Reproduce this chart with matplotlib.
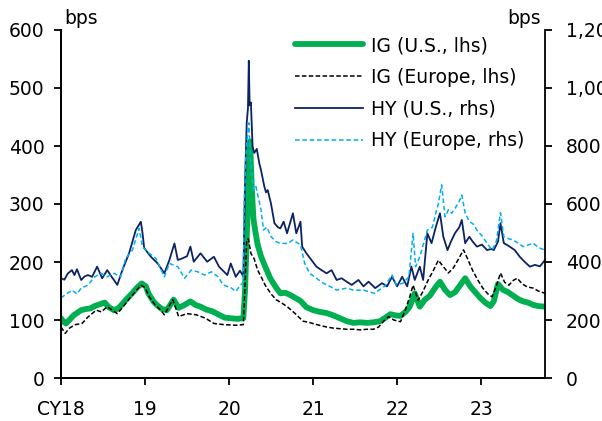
import numpy as np
import matplotlib
matplotlib.use("Agg")
import matplotlib.pyplot as plt
from matplotlib.ticker import FuncFormatter

plt.rcParams['font.family'] = ['DejaVu Sans']

# Spreads, dates as fractional years
ig_us_t = [2018.00, 2018.03, 2018.06, 2018.10, 2018.15, 2018.20, 2018.24, 2018.30, 2018.35, 2018.40,
           2018.46, 2018.52, 2018.57, 2018.63, 2018.68, 2018.72, 2018.78, 2018.84, 2018.90, 2018.96,
           2019.01, 2019.04, 2019.10, 2019.14, 2019.20, 2019.26, 2019.34, 2019.40, 2019.47, 2019.54,
           2019.60, 2019.66, 2019.73, 2019.80, 2019.88, 2019.95, 2020.02, 2020.10, 2020.17, 2020.19,
           2020.21, 2020.23, 2020.25, 2020.27, 2020.29, 2020.31, 2020.34, 2020.38, 2020.43, 2020.49,
           2020.55, 2020.61, 2020.67, 2020.73, 2020.79, 2020.85, 2020.92,
           2021.00, 2021.08, 2021.16, 2021.24, 2021.32, 2021.40, 2021.48, 2021.56, 2021.64, 2021.72,
           2021.80, 2021.86, 2021.92, 2021.98, 2022.04, 2022.10, 2022.15, 2022.21, 2022.27, 2022.33,
           2022.39, 2022.45, 2022.51, 2022.57, 2022.63, 2022.69, 2022.75, 2022.81, 2022.87, 2022.93,
           2022.99, 2023.05, 2023.11, 2023.15, 2023.20, 2023.26, 2023.32, 2023.38, 2023.44, 2023.50,
           2023.56, 2023.62, 2023.68, 2023.76]
ig_us = [103, 97, 94, 100, 108, 113, 117, 119, 120, 124,
         127, 130, 122, 117, 120, 126, 136, 145, 155, 163,
         158, 146, 132, 126, 119, 117, 135, 121, 126, 132,
         126, 123, 118, 115, 109, 104, 103, 102, 103, 150,
         240, 340, 408, 330, 275, 255, 230, 210, 192, 172,
         158, 146, 147, 143, 138, 133, 122,
         117, 114, 112, 108, 103, 98, 95, 96, 95, 96,
         98, 104, 110, 108, 107, 114, 123, 146, 123, 135,
         142, 155, 166, 152, 143, 148, 160, 172, 158, 148,
         138, 130, 124, 132, 162, 152, 148, 142, 136, 132,
         130, 126, 124, 123]

ig_eu_t = [2018.00, 2018.05, 2018.10, 2018.17, 2018.25, 2018.32, 2018.42, 2018.48, 2018.55, 2018.62,
           2018.67, 2018.74, 2018.82, 2018.88, 2018.95, 2019.00, 2019.05, 2019.12, 2019.18, 2019.23,
           2019.33, 2019.40, 2019.50, 2019.61, 2019.72, 2019.82, 2019.94, 2020.08, 2020.17, 2020.19,
           2020.21, 2020.23, 2020.26, 2020.30, 2020.34, 2020.38, 2020.43, 2020.50, 2020.56, 2020.62,
           2020.70, 2020.78, 2020.88, 2020.95, 2021.02, 2021.10,
           2021.16, 2021.24, 2021.32, 2021.40, 2021.48, 2021.56, 2021.64, 2021.72, 2021.78, 2021.84,
           2021.90, 2021.96, 2022.04, 2022.10, 2022.15, 2022.19, 2022.25, 2022.31, 2022.37, 2022.43,
           2022.49, 2022.55, 2022.61, 2022.67, 2022.73, 2022.79, 2022.84, 2022.90, 2022.96, 2023.02,
           2023.08, 2023.13, 2023.18, 2023.23, 2023.28, 2023.33, 2023.38, 2023.43, 2023.49, 2023.55,
           2023.62, 2023.68, 2023.76]
ig_eu = [88, 77, 86, 92, 94, 105, 117, 114, 123, 116,
         111, 123, 138, 148, 160, 156, 140, 126, 118, 109,
         135, 106, 111, 109, 103, 94, 92, 91, 92, 160,
         238, 240, 215, 205, 186, 175, 160, 145, 135, 130,
         122, 112, 98, 96, 93, 90,
         88, 86, 85, 84, 84, 83, 84, 84, 88, 98,
         106, 100, 97, 118, 140, 160, 134, 150, 169, 185,
         203, 192, 181, 190, 205, 221, 205, 185, 169, 155,
         145, 140, 158, 181, 165, 160, 168, 172, 162, 157,
         155, 150, 146]

hy_us_t = [2018.00, 2018.04, 2018.08, 2018.13, 2018.16, 2018.19, 2018.24, 2018.28, 2018.32, 2018.37,
           2018.43, 2018.49, 2018.55, 2018.60, 2018.63, 2018.67, 2018.73, 2018.81, 2018.89, 2018.95,
           2018.97, 2018.99, 2019.07, 2019.15, 2019.23, 2019.29, 2019.35, 2019.39, 2019.44, 2019.50,
           2019.54, 2019.58, 2019.66, 2019.74, 2019.82, 2019.88, 2019.98, 2020.02, 2020.08, 2020.13,
           2020.17, 2020.19, 2020.21, 2020.225, 2020.235, 2020.245, 2020.26, 2020.28, 2020.30, 2020.33,
           2020.36, 2020.38, 2020.42, 2020.44, 2020.46, 2020.50, 2020.54, 2020.58, 2020.61, 2020.65,
           2020.69, 2020.76, 2020.80, 2020.85, 2020.87, 2020.92, 2020.98, 2021.04, 2021.10, 2021.16,
           2021.22, 2021.28, 2021.34, 2021.40, 2021.46, 2021.54, 2021.60, 2021.66, 2021.74, 2021.82,
           2021.88, 2021.94, 2022.00, 2022.06, 2022.12, 2022.17, 2022.21, 2022.27, 2022.31, 2022.36,
           2022.41, 2022.46, 2022.51, 2022.55, 2022.60, 2022.64, 2022.69, 2022.74, 2022.77, 2022.81,
           2022.86, 2022.90, 2022.95, 2023.01, 2023.07, 2023.12, 2023.15, 2023.20, 2023.23, 2023.27,
           2023.33, 2023.40, 2023.46, 2023.52, 2023.58, 2023.64, 2023.70, 2023.76]
hy_us = [344, 339, 360, 372, 355, 375, 338, 350, 355, 349,
         384, 344, 372, 350, 338, 321, 372, 430, 510, 539,
         500, 448, 418, 395, 361, 407, 464, 407, 412, 420,
         453, 401, 430, 401, 418, 384, 355, 395, 349, 370,
         351, 672, 879, 930, 1094, 940, 950, 798, 776, 790,
         740, 717, 660, 640, 648, 600, 534, 520, 516, 539,
         499, 568, 499, 539, 453, 430, 407, 384, 372, 361,
         372, 338, 344, 332, 321, 338, 316, 332, 310, 327,
         316, 349, 316, 349, 316, 384, 338, 384, 338, 499,
         465, 520, 568, 487, 441, 470, 500, 520, 545, 465,
         487, 470, 453, 460, 441, 445, 441, 470, 534, 465,
         455, 441, 418, 400, 384, 390, 385, 407]

hy_eu_t = [2018.00, 2018.05, 2018.13, 2018.19, 2018.24, 2018.32, 2018.40, 2018.48, 2018.55, 2018.63,
           2018.71, 2018.77, 2018.85, 2018.93, 2018.97, 2019.05, 2019.13, 2019.23, 2019.29, 2019.39,
           2019.47, 2019.55, 2019.63, 2019.71, 2019.79, 2019.87, 2019.93, 2020.03, 2020.08, 2020.13,
           2020.17, 2020.18, 2020.20, 2020.22, 2020.235, 2020.25, 2020.27, 2020.29, 2020.32, 2020.35,
           2020.38, 2020.41, 2020.45, 2020.50, 2020.56, 2020.61, 2020.70, 2020.76, 2020.85, 2020.90,
           2020.96, 2021.04, 2021.12, 2021.20, 2021.28, 2021.40, 2021.48, 2021.60, 2021.73, 2021.85,
           2021.94, 2021.99, 2022.07, 2022.14, 2022.19, 2022.22, 2022.27, 2022.36, 2022.42, 2022.46,
           2022.49, 2022.53, 2022.57, 2022.61, 2022.65, 2022.70, 2022.74, 2022.77, 2022.81, 2022.86,
           2022.91, 2022.95, 2023.01, 2023.07, 2023.13, 2023.18, 2023.23, 2023.27, 2023.33, 2023.38,
           2023.44, 2023.50, 2023.56, 2023.62, 2023.68, 2023.76]
hy_eu = [276, 287, 303, 290, 310, 320, 349, 361, 349, 361,
         349, 412, 441, 516, 452, 430, 412, 349, 395, 384,
         344, 372, 366, 355, 366, 349, 321, 310, 298, 318,
         330, 600, 763, 840, 880, 786, 700, 648, 660, 620,
         580, 510, 520, 487, 470, 464, 464, 476, 459, 395,
         361, 344, 327, 316, 303, 310, 303, 303, 292, 316,
         355, 321, 327, 349, 499, 384, 418, 510, 520, 568,
         600, 666, 556, 580, 568, 590, 610, 631, 568, 540,
         530, 510, 490, 465, 441, 470, 570, 487, 480, 476,
         465, 453, 459, 465, 450, 441]

year_ticks = [2018, 2019, 2020, 2021, 2022, 2023]
year_labels = ["CY18", "19", "20", "21", "22", "23"]

fig = plt.figure(figsize=(6.02, 4.21), dpi=100)
ax = fig.add_axes([61/602, 43/421, (545-61)/602, (378-30)/421])
ax2 = ax.twinx()

l1, = ax.plot(ig_us_t, ig_us, color="#00B050", lw=4.2, solid_capstyle="round",
              label="IG (U.S., lhs)", zorder=2)
l2, = ax.plot(ig_eu_t, ig_eu, color="black", lw=1.1, dashes=(3, 1.5),
              label="IG (Europe, lhs)", zorder=3)
l3, = ax2.plot(hy_us_t, hy_us, color="#0B2265", lw=1.3, label="HY (U.S., rhs)")
l4, = ax2.plot(hy_eu_t, hy_eu, color="#00B0F0", lw=1.1, dashes=(3, 1.8),
               label="HY (Europe, rhs)")

ax.set_xlim(2018.0, 2023.76)
ax.set_ylim(0, 600)
ax2.set_ylim(0, 1200)
ax.set_yticks(range(0, 601, 100))
ax2.set_yticks(range(0, 1201, 200))
ax2.yaxis.set_major_formatter(FuncFormatter(lambda v, p: f"{int(v):,}"))
ax.set_xticks(year_ticks)
ax.set_xticklabels(year_labels)

for a in (ax, ax2):
    a.spines["top"].set_visible(False)
    for s in a.spines.values():
        s.set_linewidth(1.3)
    a.tick_params(direction="out", length=5, width=1.3, labelsize=13.5)
ax.spines["right"].set_visible(False)
ax.tick_params(axis="x", pad=11)
ax.tick_params(axis="y", pad=7)
ax2.tick_params(axis="y", pad=10)

fig.text(64/602, 1 - 18/421, "bps", fontsize=13.5, va="center", ha="left")
fig.text(541/602, 1 - 18/421, "bps", fontsize=13.5, va="center", ha="right")

fig.legend(handles=[l1, l2, l3, l4], loc="upper left",
           bbox_to_anchor=(295/602, 1 - 36/421), frameon=False, fontsize=13.5,
           handlelength=3.6, handletextpad=0.45, labelspacing=0.68,
           borderpad=0, borderaxespad=0)

fig.savefig("out.png", dpi=100)
